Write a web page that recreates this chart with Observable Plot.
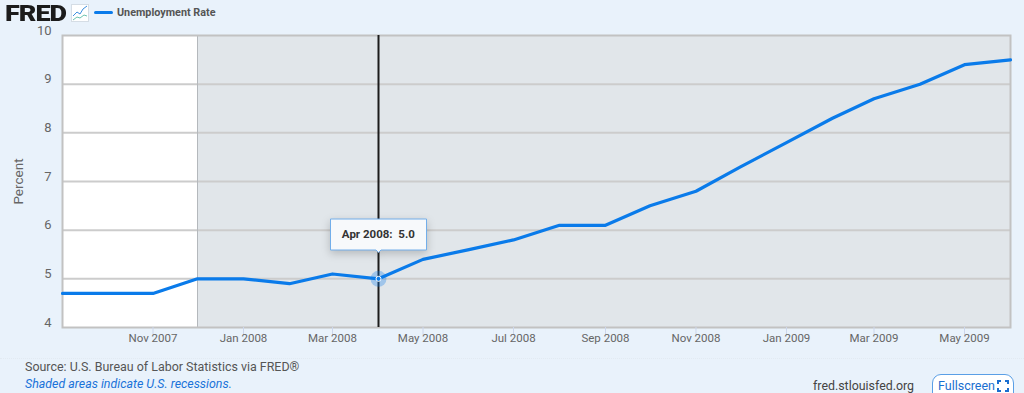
<!DOCTYPE html>
<html><head><meta charset="utf-8">
<script src="https://cdn.jsdelivr.net/npm/d3@7"></script>
<script src="https://cdn.jsdelivr.net/npm/@observablehq/plot@0.6"></script>
<style>
html,body{margin:0;padding:0;background:#e9f2fb;width:1024px;height:393px;overflow:hidden;font-family:Roboto,sans-serif}
#head{height:20px;position:relative}
#logo{position:absolute;left:5px;top:5px;font:900 22.5px/16px Roboto,sans-serif;letter-spacing:-.8px;color:#1b1b1b;transform:scaleX(1.2);transform-origin:left center}
#icon{position:absolute;left:71px;top:4px}
#swatch{position:absolute;left:94px;top:11px;width:19px;height:3px;background:#0a7bea;border-radius:2px}
#name{position:absolute;left:117px;top:6px;font:700 10.8px/14px Roboto,sans-serif;color:#555}
#foot{position:relative;height:48px}
#rule{position:absolute;left:0;right:0;top:13px;border-top:1px dotted #e2eaf2}
#src{position:absolute;left:25px;top:14px;font:12.45px/16px Roboto,sans-serif;color:#555}
#note{position:absolute;left:25px;top:31px;font:italic 12.4px/16px Roboto,sans-serif;color:#1a73d9}
#site{position:absolute;left:813px;top:33px;font:12.4px/16px Roboto,sans-serif;color:#444}
#full{position:absolute;left:932px;top:29px;width:82px;height:30px;box-sizing:border-box;border:1px solid #5a9fe6;border-radius:9px;background:#fff;color:#1a6fd0;font:12.5px/22px Roboto,sans-serif;padding-left:5px}
#fs{position:absolute;left:64px;top:5px}
svg text{font-family:Roboto,sans-serif}
g[aria-label="tip"] text{fill:#333}
</style></head><body>
<div id="head">
<div id="logo">FRED</div>
<svg id="icon" width="18" height="18" viewBox="0 0 18 18"><rect x=".5" y=".5" width="17" height="17" fill="#fff" stroke="#d5dde5"/><polyline points="2,12 6,8 9,10 12,5 16,2" fill="none" stroke="#3d8fe0"/><polyline points="2,16 6,13 9,14 13,11 16,12" fill="none" stroke="#6cc3b0"/></svg>
<div id="swatch"></div>
<div id="name">Unemployment Rate</div>
</div>
<div id="chart"></div>
<div id="foot">
<div id="rule"></div>
<div id="src">Source: U.S. Bureau of Labor Statistics via FRED®</div>
<div id="note">Shaded areas indicate U.S. recessions.</div>
<div id="site">fred.stlouisfed.org</div>
<div id="full">Fullscreen<svg id="fs" width="12" height="12" viewBox="0 0 12 12"><path d="M1 4V1H4M8 1H11V4M11 8V11H8M4 11H1V8" fill="none" stroke="#1a6fd0" stroke-width="2"/></svg></div>
</div>
<script>
const months = ["2007-09","2007-10","2007-11","2007-12","2008-01","2008-02","2008-03","2008-04","2008-05","2008-06","2008-07","2008-08","2008-09","2008-10","2008-11","2008-12","2009-01","2009-02","2009-03","2009-04","2009-05","2009-06"];
const rates = [4.7,4.7,4.7,5.0,5.0,4.9,5.1,5.0,5.4,5.6,5.8,6.1,6.1,6.5,6.8,7.3,7.8,8.3,8.7,9.0,9.4,9.5];
const xTickMonths = ["2007-11","2008-01","2008-03","2008-05","2008-07","2008-09","2008-11","2009-01","2009-03","2009-05"];
const yTicks = [4,5,6,7,8,9,10];
const recessionStart = "2007-12";
const recessionEnd = "2009-06";
const firstMonth = "2007-09";
const hoverMonth = "2008-04";
const hoverValue = 5.0;
const hoverLabel = "\u00a0Apr 2008:  5.0\u00a0";

const parse = d3.utcParse("%Y-%m");
const fmt = d3.utcFormat("%b %Y");
const data = months.map((m,i)=>({date:parse(m),rate:rates[i]}));
const hover = [{date:parse(hoverMonth),rate:hoverValue,label:hoverLabel}];
const xDomain = [parse(firstMonth),parse(recessionEnd)];

const plot = Plot.plot({
  width:1024,height:325,
  marginLeft:62,marginRight:14,marginTop:15,marginBottom:18,
  style:{background:"transparent",fontFamily:"Roboto,sans-serif",overflow:"visible"},
  x:{type:"utc",domain:xDomain},
  y:{domain:[4,10]},
  marks:[
    Plot.rect([{}],{x1:()=>xDomain[0],x2:()=>xDomain[1],y1:()=>4,y2:()=>10,fill:"#ffffff"}),
    Plot.rect([{}],{x1:()=>parse(recessionStart),x2:()=>parse(recessionEnd),y1:()=>4,y2:()=>10,fill:"#e1e6ea"}),
    Plot.ruleY(yTicks.slice(1,-1),{stroke:"#cccccc",strokeWidth:2}),
    Plot.ruleX([parse(recessionStart)],{y1:()=>4,y2:()=>10,stroke:"#b4b8bc",strokeWidth:1}),
    Plot.frame({stroke:"#c2c2c2",strokeWidth:2}),
    Plot.axisY({ticks:yTicks,tickFormat:"d",tickSize:0,tickPadding:11,dy:-5,fontSize:13,color:"#666",label:null}),
    Plot.text(["Percent"],{frameAnchor:"left",textAnchor:"middle",dx:-44,dy:0,rotate:-90,fontSize:13.5,fill:"#666"}),
    Plot.axisX({ticks:xTickMonths.map(parse),tickFormat:fmt,tickSize:8,tickPadding:-2,stroke:"#ccd6eb",color:"#666",fontSize:11.5,label:null}),
    Plot.ruleX(hover,{x:"date",y1:()=>4,y2:()=>10,stroke:"#1c1c1c",strokeWidth:2}),
    Plot.line(data,{x:"date",y:"rate",stroke:"#0a7bea",strokeWidth:3.2,curve:"linear"}),
    Plot.dot(hover,{x:"date",y:"rate",r:8,fill:"#0a7bea",fillOpacity:.3,stroke:"none"}),
    Plot.dot(hover,{x:"date",y:"rate",r:2.5,fill:"#0a7bea",stroke:"#fff",strokeWidth:1}),
    Plot.tip(hover,{x:"date",y:"rate",title:"label",anchor:"bottom",dy:-26,pointerSize:5,fill:"#f7f9fb",stroke:"#72aeea",fontSize:11.5,fontWeight:700,textPadding:8.5})
  ]
});
document.getElementById("chart").appendChild(plot);
</script>
</body></html>
